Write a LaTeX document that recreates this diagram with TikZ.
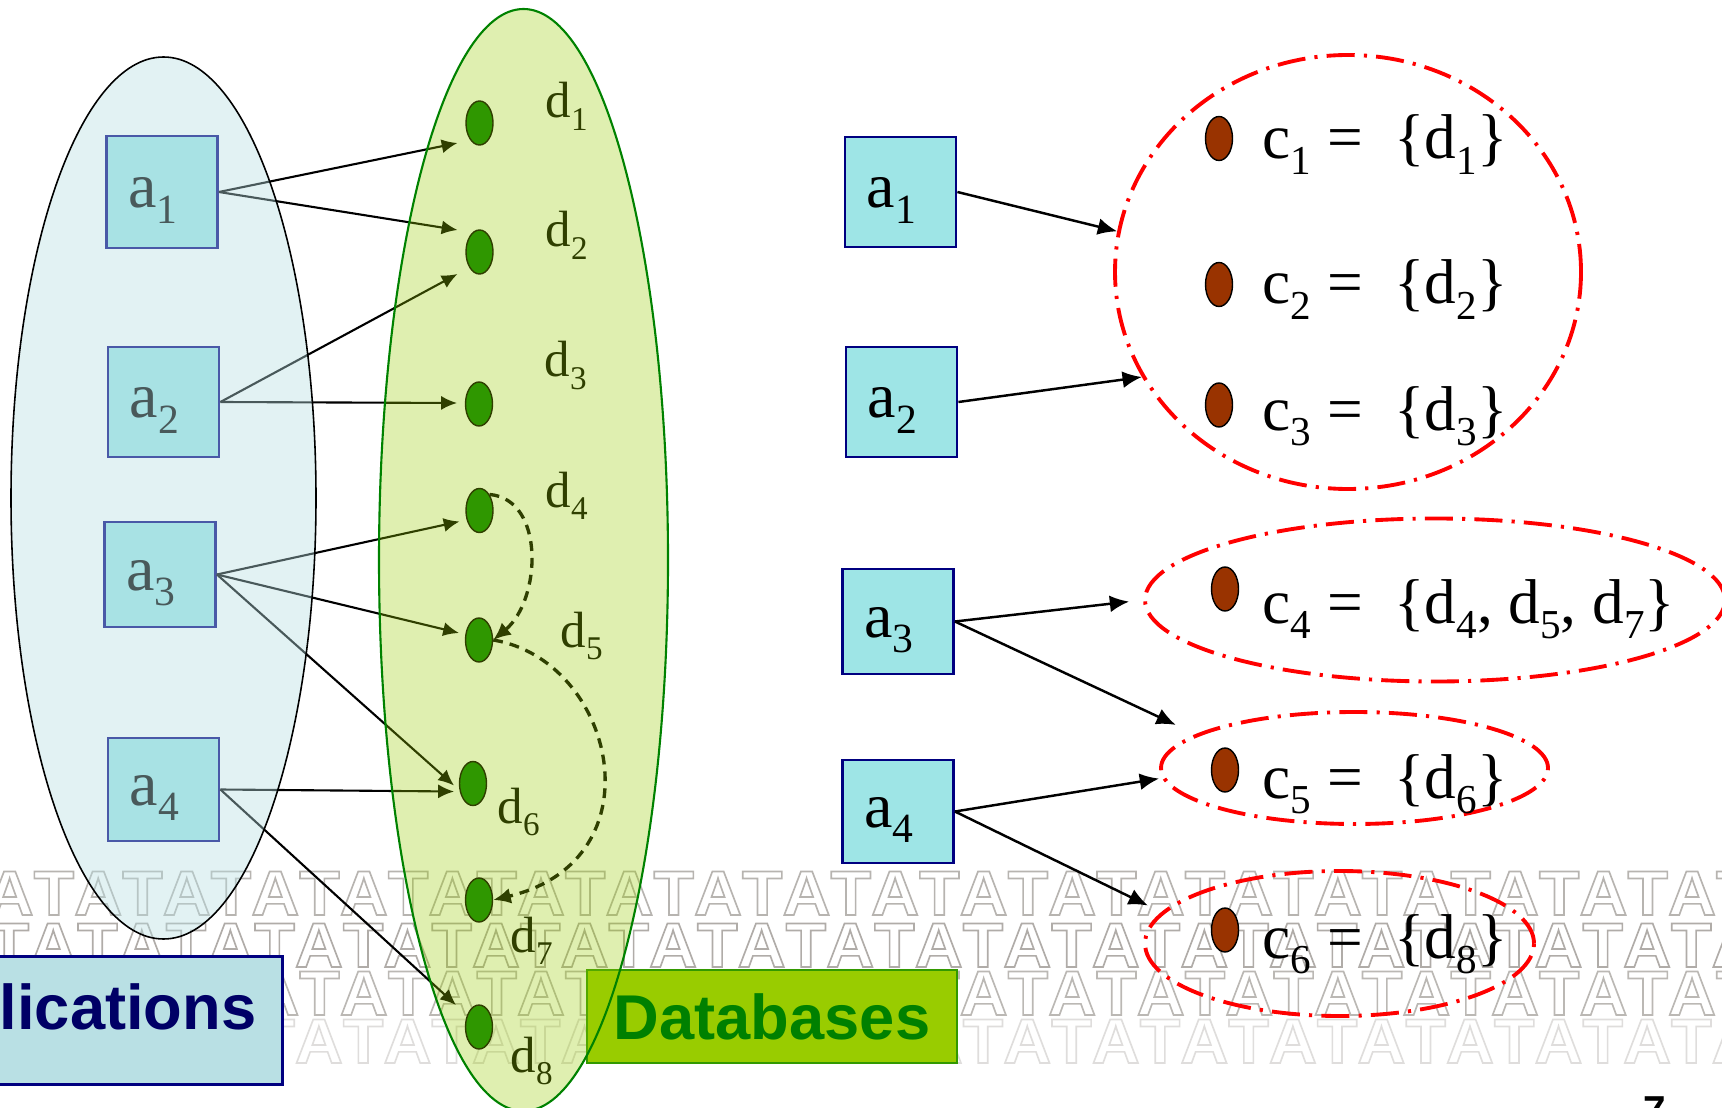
\documentclass[tikz,border=0pt]{standalone}
\usepackage{fontspec}
\setmainfont{Liberation Serif}
\newfontfamily\labsans{Liberation Sans}
\newfontfamily\wmfont[Kerning=Off]{Liberation Sans}
\usepackage{graphicx}
\usetikzlibrary{arrows.meta,shapes.geometric,positioning}
\usepackage{xcolor}
\definecolor{navyc}{RGB}{0,0,128}
\definecolor{boxc}{RGB}{158,229,230}
\definecolor{appc}{RGB}{185,224,228}
\definecolor{apptext}{RGB}{0,0,102}
\definecolor{dbc}{RGB}{153,204,0}
\definecolor{dbedge}{RGB}{51,153,0}
\definecolor{dbtext}{RGB}{0,128,0}
\definecolor{dotg}{RGB}{0,128,0}
\definecolor{dotb}{RGB}{153,51,0}
\definecolor{setac}{RGB}{183,223,227}
\definecolor{setdc}{RGB}{153,204,0}
\definecolor{setdedge}{RGB}{0,130,0}
\definecolor{wmc}{RGB}{176,172,168}

\newcommand{\lsub}[1]{\raisebox{-0.24em}{\scalebox{0.65}{#1}}}
\newcommand{\wmtext}[1]{\scalebox{1.05}[1]{\special{pdf:literal direct q 1 Tr 0.45 w}#1\special{pdf:literal direct Q}}}

\begin{document}
\begin{tikzpicture}[x=0.1mm, y=-0.1mm,
  abox/.style={draw=navyc, line width=0.8pt, fill=boxc, minimum width=11.1mm, inner sep=0pt,
               text height=3.2mm, text depth=0pt, font=\fontsize{18.2}{21}\selectfont},
  ddot/.style={ellipse, draw=black, line width=0.4pt, fill=dotg, minimum width=2.7mm,
               minimum height=4.4mm, inner sep=0pt},
  cdot/.style={ddot, fill=dotb},
  dlab/.style={anchor=base west, inner sep=0pt, font=\fontsize{14.5}{17}\selectfont},
  clab/.style={anchor=base west, inner sep=0pt, font=\fontsize{18}{21}\selectfont},
  cset/.style={ellipse, draw=red, line width=1.1pt, inner sep=0pt,
               dash pattern=on 8pt off 2.6pt on 0.9pt off 2.6pt},
  dlink/.style={-{Latex[length=4.5pt, width=4pt]}, line width=0.6pt, black},
  rlink/.style={-{Latex[length=5.5pt, width=4.8pt]}, line width=0.7pt, black},
  dashlink/.style={-{Latex[length=5pt, width=4.5pt]}, line width=0.95pt, black,
                   dash pattern=on 2.8pt off 2pt},
  tagbox/.style={font=\labsans\bfseries\fontsize{18}{21}\selectfont, line width=0.8pt, inner sep=0pt},
  wmrow/.style={anchor=base west, inner sep=0pt, text=wmc,
                font=\wmfont\bfseries\fontsize{18}{20}\selectfont},
]
\useasboundingbox (0,0) rectangle (1722,1108);
\fill[white] (0,0) rectangle (1722,1108);

% background band
\foreach \row/\yb/\xo/\op/\txt in {1/915/-15/0.9/ATATATATATATATATATATATATATATATATATATATATAT,
    2/967/-12/1/TATATATATATATATATATATATATATATATATATATATATA,
    3/1015/-15/0.85/ATATATATATATATATATATATATATATATATATATATATAT,
    4/1063/-12/0.4/TATATATATATATATATATATATATATATATATATATATATA}
  \node[wmrow, opacity=\op] (wm\row) at (\xo,\yb) {\wmtext{\txt}};

% applications and databases
\node[abox, minimum height=11.2mm] (a1) at (162,192) {a\lsub{1}\kern1.8mm};
\node[abox, minimum height=11.0mm] (a2) at (163.5,402) {a\lsub{2}\kern1.8mm};
\node[abox, minimum height=10.5mm] (a3) at (160,574.5) {a\lsub{3}\kern1.8mm};
\node[abox, minimum height=10.3mm] (a4) at (163.5,789.5) {a\lsub{4}\kern1.8mm};

\foreach \n/\px/\py in {1/479.5/123, 2/479.5/252, 3/479/404, 4/479.5/510.5,
                        5/479/640, 6/473/783.5, 7/479/900, 8/479/1027}
  \node[ddot] (d\n) at (\px,\py) {};
\foreach \n/\px/\py in {1/545/118, 2/545/247, 3/544/377, 4/545/507,
                        5/560/647, 6/497/823, 7/510/952, 8/510/1072}
  \node[dlab] (dl\n) at (\px,\py) {d\lsub{\n}};

\draw[dlink] (a1.east) -- ([shift={(-22,20)}]d1.center);
\draw[dlink] (a1.east) -- ([shift={(-22,-22)}]d2.center);
\draw[dlink] (a2.east) -- ([shift={(-22,22)}]d2.center);
\draw[dlink] (a2.east) -- ([shift={(-22,-1)}]d3.center);
\draw[dlink] (a3.east) -- ([shift={(-20,11)}]d4.center);
\draw[dlink] (a3.east) -- ([shift={(-20,-7)}]d5.center);
\draw[dlink] (a3.east) -- ([shift={(-19,2)}]d6.center);
\draw[dlink] (a4.east) -- ([shift={(-19,8)}]d6.center);
\draw[dlink] (a4.east) -- ([shift={(-23,-22)}]d8.center);

\draw[dashlink] (d4.north east) .. controls +(56,5) and +(48,-40) .. (d5.east);
\draw[dashlink] (d5.east) .. controls +(122,20) and +(168,-40) .. (d7.east);

\node[tagbox, fill=appc, draw=navyc, text=apptext, anchor=north east, minimum width=30.9mm,
      text height=7.3mm, text depth=5.5mm] (apptag) at (284,955) {lications};
\node[tagbox, fill=dbc, draw=dbedge, text=dbtext, minimum width=37mm, minimum height=9.3mm]
  (dbtag) at (772,1016.5) {Databases};

% the two sets, see-through
\node[ellipse, draw=black, line width=0.45pt, fill=setac, fill opacity=0.4, inner sep=0pt,
      minimum width=30.5mm, minimum height=88.2mm] (aset) at (163.5,498) {};
\node[ellipse, draw=setdedge, line width=0.6pt, fill=setdc, fill opacity=0.31, inner sep=0pt,
      minimum width=28.9mm, minimum height=110.2mm] (dset) at (523.5,560) {};

% right half: clusters
\node[abox, minimum height=11.0mm] (ra1) at (900.5,192) {a\lsub{1}\kern1.8mm};
\node[abox, minimum height=11.0mm] (ra2) at (901.5,402) {a\lsub{2}\kern1.8mm};
\node[abox, minimum height=10.5mm] (ra3) at (898,621.5) {a\lsub{3}\kern1.8mm};
\node[abox, minimum height=10.3mm] (ra4) at (898,811.5) {a\lsub{4}\kern1.8mm};

\node[cset, minimum width=46.6mm, minimum height=43.4mm] (cs1) at (1348,272) {};
\node[cset, minimum width=58mm, minimum height=16.3mm] (cs2) at (1435,600) {};
\node[cset, minimum width=38.7mm, minimum height=11.2mm] (cs3) at (1354.5,768) {};
\node[cset, minimum width=38.9mm, minimum height=14.5mm] (cs4) at (1339.5,943.5) {};

\foreach \n/\px/\py in {1/1219/138.5, 2/1219/284.5, 3/1219/405, 4/1225/589, 5/1225/770, 6/1225/930}
  \node[cdot] (c\n) at (\px,\py) {};

\node[clab] (cl1) at (1262,159) {c\lsub{1} =~~\{d\lsub{1}\}};
\node[clab] (cl2) at (1262,304) {c\lsub{2} =~~\{d\lsub{2}\}};
\node[clab] (cl3) at (1262,430) {c\lsub{3} =~~\{d\lsub{3}\}};
\node[clab] (cl4) at (1262,623) {c\lsub{4} =~~\{d\lsub{4}, d\lsub{5}, d\lsub{7}\}};
\node[clab] (cl5) at (1262,798) {c\lsub{5} =~~\{d\lsub{6}\}};
\node[clab] (cl6) at (1262,958) {c\lsub{6} =~~\{d\lsub{8}\}};

\draw[rlink] (ra1.east) -- (cs1.170);
\draw[rlink] (ra2.east) -- (cs1.207);
\draw[rlink, shorten >=1.4mm] (ra3.east) -- (cs2.west);
\draw[rlink, shorten >=2.2mm] (ra3.east) -- (cs3.168);
\draw[rlink, shorten >=0.3mm] (ra4.east) -- (cs3.183);
\draw[rlink, shorten >=1.5mm] (ra4.east) -- (cs4.170);

\node[font=\labsans\bfseries\fontsize{11.5}{13}\selectfont, anchor=north, inner sep=0pt]
  (pgno) at (1655,1096) {7};
\end{tikzpicture}
\end{document}
